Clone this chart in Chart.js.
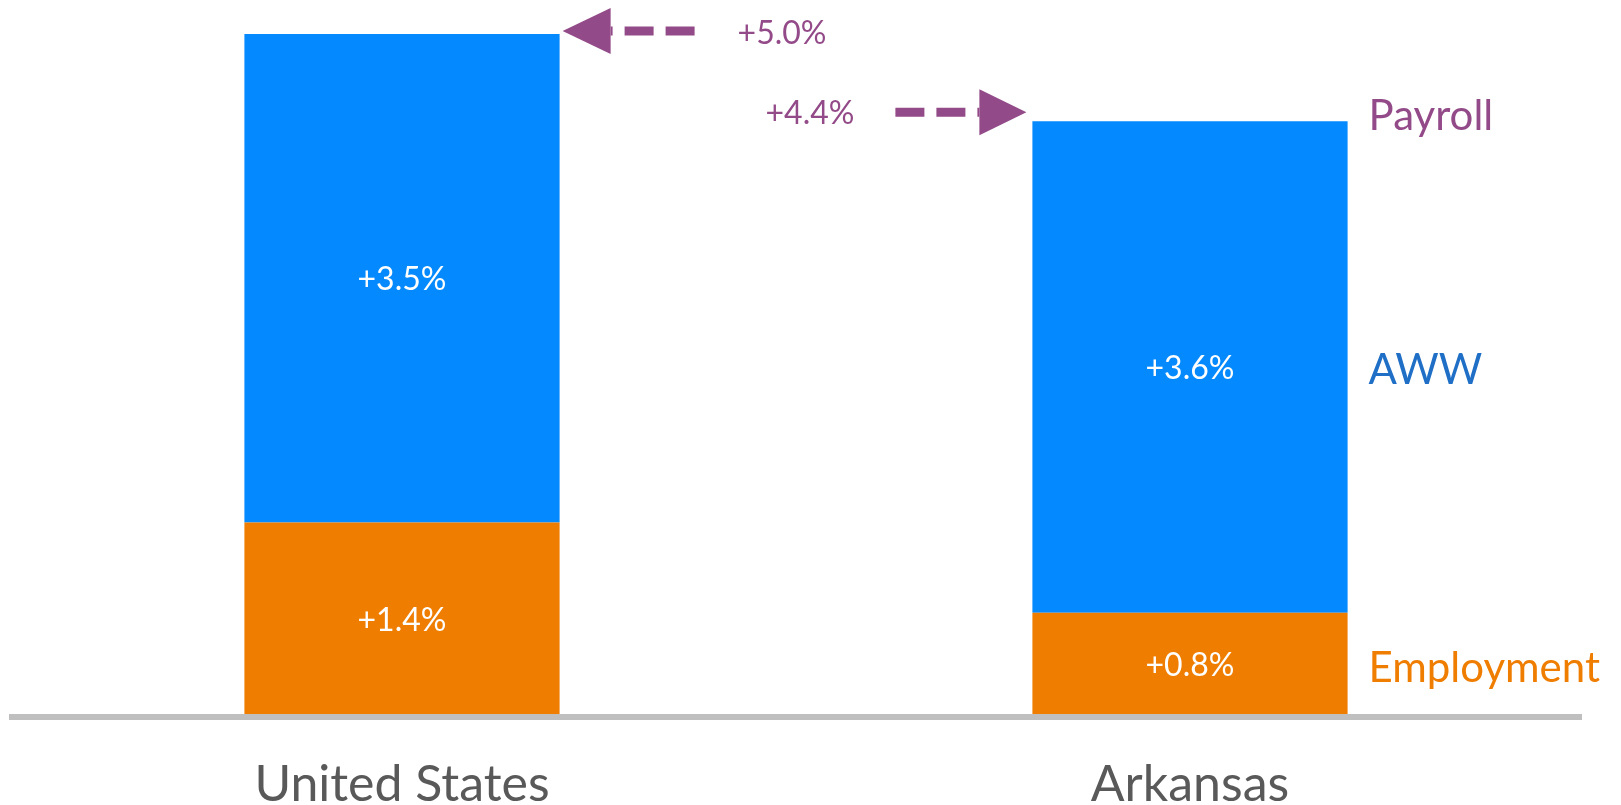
<!DOCTYPE html>
<html>
<head>
<meta charset="utf-8">
<title>Payroll growth: United States vs Arkansas</title>
<script src="https://cdn.jsdelivr.net/npm/chart.js@4.4.1/dist/chart.umd.min.js"></script>
<style>
  html, body { margin: 0; padding: 0; background: #fff; }
  #wrap { width: 1621px; height: 805px; position: relative; }
</style>
</head>
<body>
<div id="wrap"><canvas id="payrollChart"></canvas></div>
<script>
// ---- Data ----
const regions = ['United States', 'Arkansas'];
const employment = [1.38, 0.73];        // bar heights, % growth
const aww = [3.52, 3.54];
const employmentLabels = ['+1.4%', '+0.8%'];
const awwLabels = ['+3.5%', '+3.6%'];
const payrollLabels = ['+5.0%', '+4.4%'];
const seriesNames = ['Payroll', 'AWW', 'Employment'];

// ---- Colours ----
const BLUE = '#0489FE';
const ORANGE = '#EF7D00';
const PURPLE = '#934A88';
const AWW_TEXT = '#1F6FC6';
const GREY = '#595959';
const FONT = 'Lato';

// bar segment value labels (white, centred)
const segmentLabels = {
  id: 'segmentLabels',
  afterDatasetsDraw(chart) {
    const ctx = chart.ctx;
    const texts = [employmentLabels, awwLabels];
    ctx.save();
    ctx.fillStyle = '#fff';
    ctx.font = `32px ${FONT}`;
    ctx.textAlign = 'center';
    ctx.textBaseline = 'middle';
    chart.data.datasets.forEach((ds, di) => {
      chart.getDatasetMeta(di).data.forEach((bar, i) => {
        const y = (bar.y + bar.base) / 2;
        ctx.fillText(texts[di][i], bar.x, y + 2);
      });
    });
    ctx.restore();
  }
};

// grey baseline under the bars
const baseLine = {
  id: 'baseLine',
  afterDatasetsDraw(chart) {
    const { ctx, chartArea } = chart;
    ctx.save();
    ctx.fillStyle = '#BFBFBF';
    ctx.fillRect(chartArea.left + 1, chartArea.bottom, chartArea.right - chartArea.left - 3, 6);
    ctx.restore();
  }
};

function dashedArrow(ctx, tail, base, tip, y) {
  ctx.save();
  ctx.strokeStyle = PURPLE;
  ctx.fillStyle = PURPLE;
  ctx.lineWidth = 9;
  ctx.setLineDash([29, 12]);
  ctx.beginPath();
  ctx.moveTo(tail, y);
  ctx.lineTo(base, y);
  ctx.stroke();
  ctx.setLineDash([]);
  ctx.beginPath();
  ctx.moveTo(tip, y);
  ctx.lineTo(base, y - 23);
  ctx.lineTo(base, y + 23);
  ctx.closePath();
  ctx.fill();
  ctx.restore();
}

// payroll arrows + series names on the right
const annotations = {
  id: 'annotations',
  afterDatasetsDraw(chart) {
    const ctx = chart.ctx;
    const top = chart.getDatasetMeta(1).data;
    const bottom = chart.getDatasetMeta(0).data;
    const us = top[0], ar = top[1];

    // US: arrow pointing left at the top of the bar
    const usRight = us.x + us.width / 2;
    const usTip = usRight + 3, usY = us.y - 3;
    dashedArrow(ctx, usTip + 132, usTip + 48, usTip, usY);

    // Arkansas: arrow pointing right at the top of the bar
    const arLeft = ar.x - ar.width / 2;
    const arTip = arLeft - 6, arY = ar.y - 9;
    dashedArrow(ctx, arTip - 131, arTip - 47, arTip, arY);

    ctx.save();
    ctx.font = `32px ${FONT}`;
    ctx.fillStyle = PURPLE;
    ctx.textBaseline = 'middle';
    ctx.textAlign = 'left';
    ctx.fillText(payrollLabels[0], usTip + 175, usY + 3);
    ctx.textAlign = 'right';
    ctx.fillText(payrollLabels[1], arTip - 172, arY + 1);

    // series names next to the Arkansas bar
    const x = ar.x + ar.width / 2 + 21;
    ctx.textAlign = 'left';
    ctx.font = `42px ${FONT}`;
    ctx.fillStyle = PURPLE;
    ctx.fillText(seriesNames[0], x, ar.y - 5);
    ctx.fillStyle = AWW_TEXT;
    ctx.fillText(seriesNames[1], x, (ar.y + ar.base) / 2 + 3);
    ctx.fillStyle = ORANGE;
    const emp = bottom[1];
    ctx.fillText(seriesNames[2], x, (emp.y + emp.base) / 2 + 5);
    ctx.restore();
  }
};

function drawChart() {
  new Chart(document.getElementById('payrollChart'), {
    type: 'bar',
    data: {
      labels: regions,
      datasets: [
        { label: 'Employment', data: employment, backgroundColor: ORANGE, barPercentage: 1, categoryPercentage: 0.4 },
        { label: 'AWW', data: aww, backgroundColor: BLUE, barPercentage: 1, categoryPercentage: 0.4 }
      ]
    },
    options: {
      responsive: true,
      maintainAspectRatio: false,
      animation: false,
      layout: { padding: { left: 8, right: 37, top: 20, bottom: 0 } },
      plugins: {
        legend: { display: false },
        tooltip: { enabled: false }
      },
      scales: {
        x: {
          stacked: true,
          grid: { display: false, drawTicks: false },
          border: { display: false },
          ticks: { color: GREY, padding: 46, font: { family: FONT, size: 50, lineHeight: 1 } },
          afterFit: s => { s.height = 91; }
        },
        y: { stacked: true, display: false, min: 0, max: 5 }
      }
    },
    plugins: [baseLine, segmentLabels, annotations]
  });
}

if (document.fonts && document.fonts.load) {
  document.fonts.load(`32px ${FONT}`).then(drawChart, drawChart);
} else {
  drawChart();
}
</script>
</body>
</html>
